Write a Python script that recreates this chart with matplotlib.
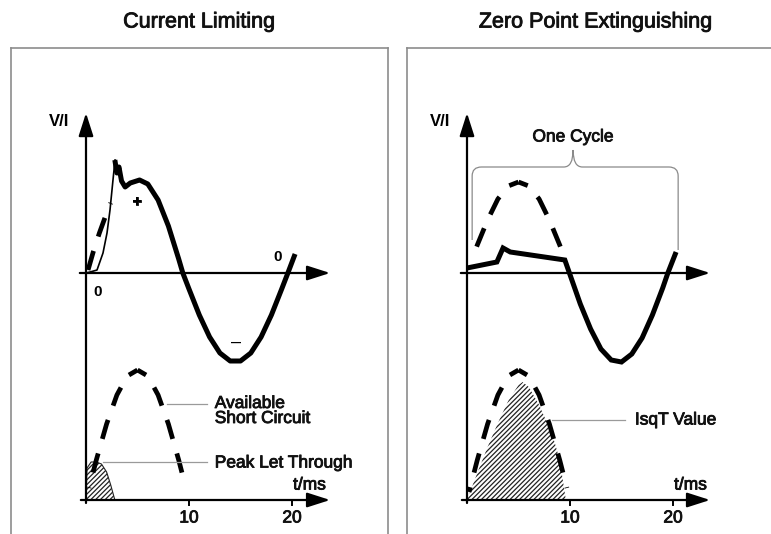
import numpy as np
import matplotlib.pyplot as plt
import matplotlib.patheffects as pe
from matplotlib.path import Path
from matplotlib.patches import PathPatch

plt.rcParams['font.family'] = ['Liberation Sans', 'DejaVu Sans']
plt.rcParams['hatch.linewidth'] = 0.9

W, H = 771, 534
PX_MS = 10.3      # pixels per millisecond
LOW = -227        # baseline of the lower (energy) plot, in panel units

# ---- Current limiting panel ----
lim_t = [2.8, 3.0, 3.2, 3.45, 3.8, 4.3, 5.2, 6, 7, 8, 9, 9.4,
         10, 11, 12, 13, 14, 15, 16, 17, 18, 19, 19.6, 20.3]
lim_v = [113, 100, 106, 92, 86, 90, 93, 89, 73, 47, 14, 0,
         -16, -42, -64, -80, -88, -88, -80, -64, -42, -16, 0, 19]
rise_t = [0, 0.4, 1.07, 1.65, 2.04, 2.33, 2.62, 2.82]
rise_v = [0, 1, 3, 20, 40, 63, 93, 113]
prosp_t = [0.2, 0.7, 1.3, 1.9, 2.4]
prosp_v = [3, 21, 40, 57, 70]
avail_t = [0.3, 1, 2, 3, 4, 5, 6, 7, 8, 9, 9.4]
avail_v = [12, 40, 76, 105, 124, 130, 124, 105, 76, 40, 24]
letthru_t = [0, 0.1, 0.5, 1.0, 1.5, 2.0, 2.4, 2.8]
letthru_v = [0, 32, 38, 38, 36, 28, 15, 0]

# ---- Zero point extinguishing panel ----
zp_t = [0, 2.9, 3.5, 4.2, 9.5, 11, 12, 13, 14, 15, 16, 17, 18, 19, 19.5, 20.3]
zp_v = [5, 11, 25, 21, 13, -31, -56, -76, -87, -89, -81, -65, -42, -15, 0, 21]
zp_dash_t = [0.6, 1, 2, 3, 4, 5, 6, 7, 8, 9, 9.4]
zp_dash_v = [17, 28, 53, 74, 87, 91, 87, 74, 53, 28, 17]
zp_avail_t = [0.2, 1, 2, 3, 4, 5, 6, 7, 8, 9, 9.7]
zp_avail_v = [8, 40, 76, 105, 124, 130, 124, 105, 76, 40, 12]
isqt_t = [0, 1, 2, 3, 4, 5, 5.4, 6, 7, 8, 8.5, 9, 9.6]
isqt_v = [0, 27, 53, 77, 99, 115, 118, 113, 95, 72, 58, 40, 0]

tick_vals = [10, 20]
tick_labels = ['10', '20']

DASH_ON, DASH_OFF = 4.2, 3.2
DASH = dict(color='black', lw=3.4, dash_capstyle='butt',
            linestyle=(DASH_ON / 2, (DASH_ON, DASH_OFF)))
HEAVY = [pe.withStroke(linewidth=0.6, foreground='#111111')]
TXT = dict(fontsize=12.5, color='#111111', path_effects=HEAVY)


def make_panel(left_px, right_px, origin_px):
    ax = fig.add_axes([left_px / W, (H - 545) / H,
                       (right_px - left_px) / W, (545 - 48) / H])
    ax.set_xlim((left_px - origin_px) / PX_MS, (right_px - origin_px) / PX_MS)
    ax.set_ylim(273 - 545, 273 - 48)
    ax.set_xticks([])
    ax.set_yticks([])
    for s in ax.spines.values():
        s.set_color('#8c8c8c')
        s.set_linewidth(1.2)
    return ax


def draw_axes(ax, x_tip):
    arrow = dict(arrowstyle='-|>,head_length=1.0,head_width=0.32', lw=1.6,
                 color='black', mutation_scale=14, shrinkA=0, shrinkB=0)
    ax.annotate('', xy=(0, 160), xytext=(0, LOW - 3), arrowprops=arrow)
    ax.annotate('', xy=(x_tip, 0), xytext=(-0.6, 0), arrowprops=arrow)
    ax.annotate('', xy=(x_tip, LOW), xytext=(-0.5, LOW), arrowprops=arrow)
    for tv, tl in zip(tick_vals, tick_labels):
        ax.plot([tv, tv], [LOW, LOW - 5], color='black', lw=1.4)
        ax.text(tv, LOW - 18, tl, ha='center', va='center', **TXT)
    ax.text(-2.6, 151, 'V/I', ha='center', va='center', fontsize=12,
            fontweight='bold')
    ax.text(21.7, LOW + 15, 't/ms', ha='center', va='center', **TXT)


def dashed_hump(ax, t, v, base=0):
    # split at the peak so the dash pattern is symmetric around it
    k = int(np.argmax(v))
    y = [base + val for val in v]
    ax.plot(t[:k + 1][::-1], y[:k + 1][::-1], **DASH)
    ax.plot(t[k:], y[k:], **DASH)


fig = plt.figure(figsize=(W / 100, H / 100), dpi=100)

# left panel
ax1 = make_panel(11, 388, 86)
draw_axes(ax1, 23.7)
ax1.plot(rise_t, rise_v, color='black', lw=1.2)
ax1.plot(prosp_t, prosp_v, color='black', lw=3.4, dashes=(DASH_ON, DASH_OFF))
ax1.plot(lim_t, lim_v, color='black', lw=3.6, solid_joinstyle='round',
         solid_capstyle='butt')
ax1.text(4.95, 71, '+', ha='center', va='center', fontsize=12, **{'path_effects': HEAVY})
ax1.text(1.17, -19, '0', ha='center', va='center', fontsize=11, fontweight='bold')
ax1.text(18.6, 16, '0', ha='center', va='center', fontsize=11, fontweight='bold')
ax1.text(14.6, -69, '\u2013', ha='center', va='center', fontsize=13)

ax1.fill_between(letthru_t, LOW, [LOW + v for v in letthru_v], facecolor='white',
                 edgecolor='#222222', hatch='///////', lw=0.8)
dashed_hump(ax1, avail_t, avail_v, LOW)
ax1.plot([7.9, 11.75], [LOW + 96, LOW + 96], color='#9a9a9a', lw=0.9)
ax1.plot([1.65, 11.75], [LOW + 38, LOW + 38], color='#9a9a9a', lw=0.9)
ax1.text(12.5, LOW + 89, 'Available\nShort Circuit', ha='left', va='center',
         linespacing=1.0, **TXT)
ax1.text(12.5, LOW + 37, 'Peak Let Through', ha='left', va='center', **TXT)

# right panel
ax2 = make_panel(407, 780, 467)
draw_axes(ax2, 23.6)
dashed_hump(ax2, zp_dash_t, zp_dash_v)
ax2.plot(zp_t, zp_v, color='black', lw=3.6, solid_joinstyle='miter',
         solid_capstyle='butt')

# "one cycle" brace
bx0, bx1, bxm, by, bcusp = 0.5, 20.5, 10.3, 106, 123
verts = [(bx0, 33), (bx0, by - 9), (bx0, by), (bx0 + 0.9, by),
         (bxm - 0.9, by), (bxm, by), (bxm, bcusp), (bxm, by), (bxm + 0.9, by),
         (bx1 - 0.9, by), (bx1, by), (bx1, by - 9), (bx1, 23)]
codes = [Path.MOVETO, Path.LINETO, Path.CURVE3, Path.CURVE3,
         Path.LINETO, Path.CURVE3, Path.CURVE3, Path.CURVE3, Path.CURVE3,
         Path.LINETO, Path.CURVE3, Path.CURVE3, Path.LINETO]
ax2.add_patch(PathPatch(Path(verts, codes), fill=False, edgecolor='#8a8a8a', lw=0.9))
ax2.text(bxm, 136, 'One Cycle', ha='center', va='center', **TXT)

ax2.fill_between(isqt_t, LOW, [LOW + v for v in isqt_v], facecolor='white',
                 edgecolor='#222222', hatch='///////', lw=0)
dashed_hump(ax2, zp_avail_t, zp_avail_v, LOW)
ax2.plot([8.25, 15.3], [LOW + 80, LOW + 80], color='#9a9a9a', lw=0.9)
ax2.text(16.3, LOW + 80, 'IsqT Value', ha='left', va='center', **TXT)

fig.text(199 / W, 1 - 22 / H, 'Current Limiting', ha='center', va='center',
         fontsize=15.5, color='#111111', path_effects=HEAVY)
fig.text(595 / W, 1 - 22 / H, 'Zero Point Extinguishing', ha='center',
         va='center', fontsize=15.5, color='#111111', path_effects=HEAVY)

fig.savefig('out.png', dpi=100)
